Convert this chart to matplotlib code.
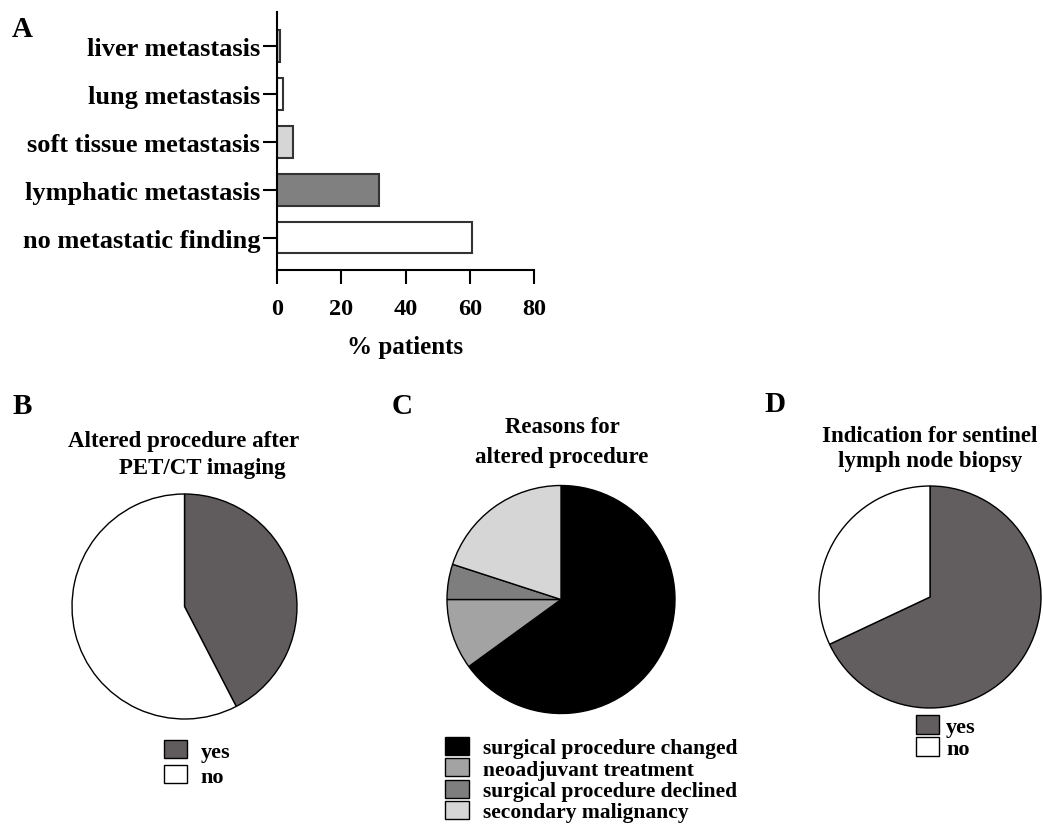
import matplotlib
matplotlib.use("Agg")
import matplotlib.pyplot as plt

plt.rcParams['font.family'] = ['Liberation Serif', 'DejaVu Serif']
plt.rcParams['font.weight'] = 'bold'

# A - metastatic findings
site_labels = ["liver metastasis", "lung metastasis", "soft tissue metastasis",
               "lymphatic metastasis", "no metastatic finding"]
site_pct = [0.9, 1.8, 5.0, 31.8, 60.6]
site_colors = ["#c8c8c8", "#ffffff", "#d6d6d6", "#808080", "#ffffff"]

# B - altered procedure
altered_labels = ["yes", "no"]
altered_pct = [42.4, 57.6]
altered_colors = ["#605c5d", "#ffffff"]

# C - reasons
reason_labels = ["surgical procedure changed", "neoadjuvant treatment",
                 "surgical procedure declined", "secondary malignancy"]
reason_pct = [65, 10, 5, 20]
reason_colors = ["#000000", "#a3a3a3", "#7e7e7e", "#d6d6d6"]

# D - sentinel lymph node biopsy
slnb_labels = ["yes", "no"]
slnb_pct = [68, 32]
slnb_colors = ["#625e5f", "#ffffff"]

W, H = 1043, 828
fig = plt.figure(figsize=(W / 100, H / 100), dpi=100)


def box(l, t, r, b):
    return [l / W, 1 - b / H, (r - l) / W, (b - t) / H]


def fx(x):
    return x / W


def fy(y):
    return 1 - y / H


# ---- A ----
ax = fig.add_axes(box(277, 13, 534, 271))
ax.barh(site_labels, site_pct, height=0.65, color=site_colors,
        edgecolor="#333333", linewidth=1.5)
ax.set_ylim(4.67, -0.71)
ax.set_xlim(0, 80)
ax.set_xticks([0, 20, 40, 60, 80])
ax.spines[['top', 'right']].set_visible(False)
for s in ['left', 'bottom']:
    ax.spines[s].set_linewidth(1.5)
ax.tick_params(axis='y', length=10, width=1.5, pad=2, labelsize=19)
ax.tick_params(axis='x', length=10, width=1.5, pad=10, labelsize=17.5)
ax.set_xlabel("% patients", fontsize=18, fontweight='bold', labelpad=12)

fig.text(fx(12), fy(37), "A", fontsize=21, fontweight='bold', va='baseline')
fig.text(fx(13), fy(414), "B", fontsize=21, fontweight='bold', va='baseline')
fig.text(fx(392), fy(414), "C", fontsize=21, fontweight='bold', va='baseline')
fig.text(fx(764), fy(412), "D", fontsize=21, fontweight='bold', va='baseline')


def pie_panel(cx, cy, r, values, colors):
    a = fig.add_axes(box(cx - r * 1.02, cy - r * 1.02, cx + r * 1.02, cy + r * 1.02))
    wedges, _ = a.pie(values, colors=colors, startangle=90, counterclock=False,
                      wedgeprops=dict(edgecolor="black", linewidth=1.0))
    a.set_xlim(-1.02, 1.02)
    a.set_ylim(-1.02, 1.02)
    a.set_aspect('equal')
    return a, wedges


def add_legend(wedges, labels, left, top, fs, hl, hh, ls, htp):
    fig.legend(wedges, labels, loc='upper left',
               bbox_to_anchor=(fx(left), fy(top)), bbox_transform=fig.transFigure,
               frameon=False, borderpad=0, borderaxespad=0,
               fontsize=fs, handlelength=hl, handleheight=hh,
               labelspacing=ls, handletextpad=htp)


# ---- B ----
axB, wB = pie_panel(184.5, 607.5, 112.5, altered_pct, altered_colors)
fig.text(fx(184), fy(447), "Altered procedure after", fontsize=16.5,
         ha='center', va='baseline')
fig.text(fx(202), fy(474), "PET/CT imaging", fontsize=16.5,
         ha='center', va='baseline')
add_legend(wB, altered_labels, 164, 741, 16, 1.05, 0.85, 0.17, 0.6)

# ---- C ----
axC, wC = pie_panel(561, 600.5, 114, reason_pct, reason_colors)
fig.text(fx(562), fy(433), "Reasons for", fontsize=16.5, ha='center', va='baseline')
fig.text(fx(562), fy(463), "altered procedure", fontsize=16.5, ha='center', va='baseline')
add_legend(wC, reason_labels, 445, 738, 15.5, 1.1, 0.9, 0.0, 0.65)

# ---- D ----
axD, wD = pie_panel(930, 598, 111, slnb_pct, slnb_colors)
fig.text(fx(930), fy(442), "Indication for sentinel", fontsize=16.5,
         ha='center', va='baseline')
fig.text(fx(930), fy(467), "lymph node biopsy", fontsize=16.5,
         ha='center', va='baseline')
add_legend(wD, slnb_labels, 916, 716, 16, 1.05, 0.95, 0.0, 0.3)

fig.savefig("out.png", dpi=100)
